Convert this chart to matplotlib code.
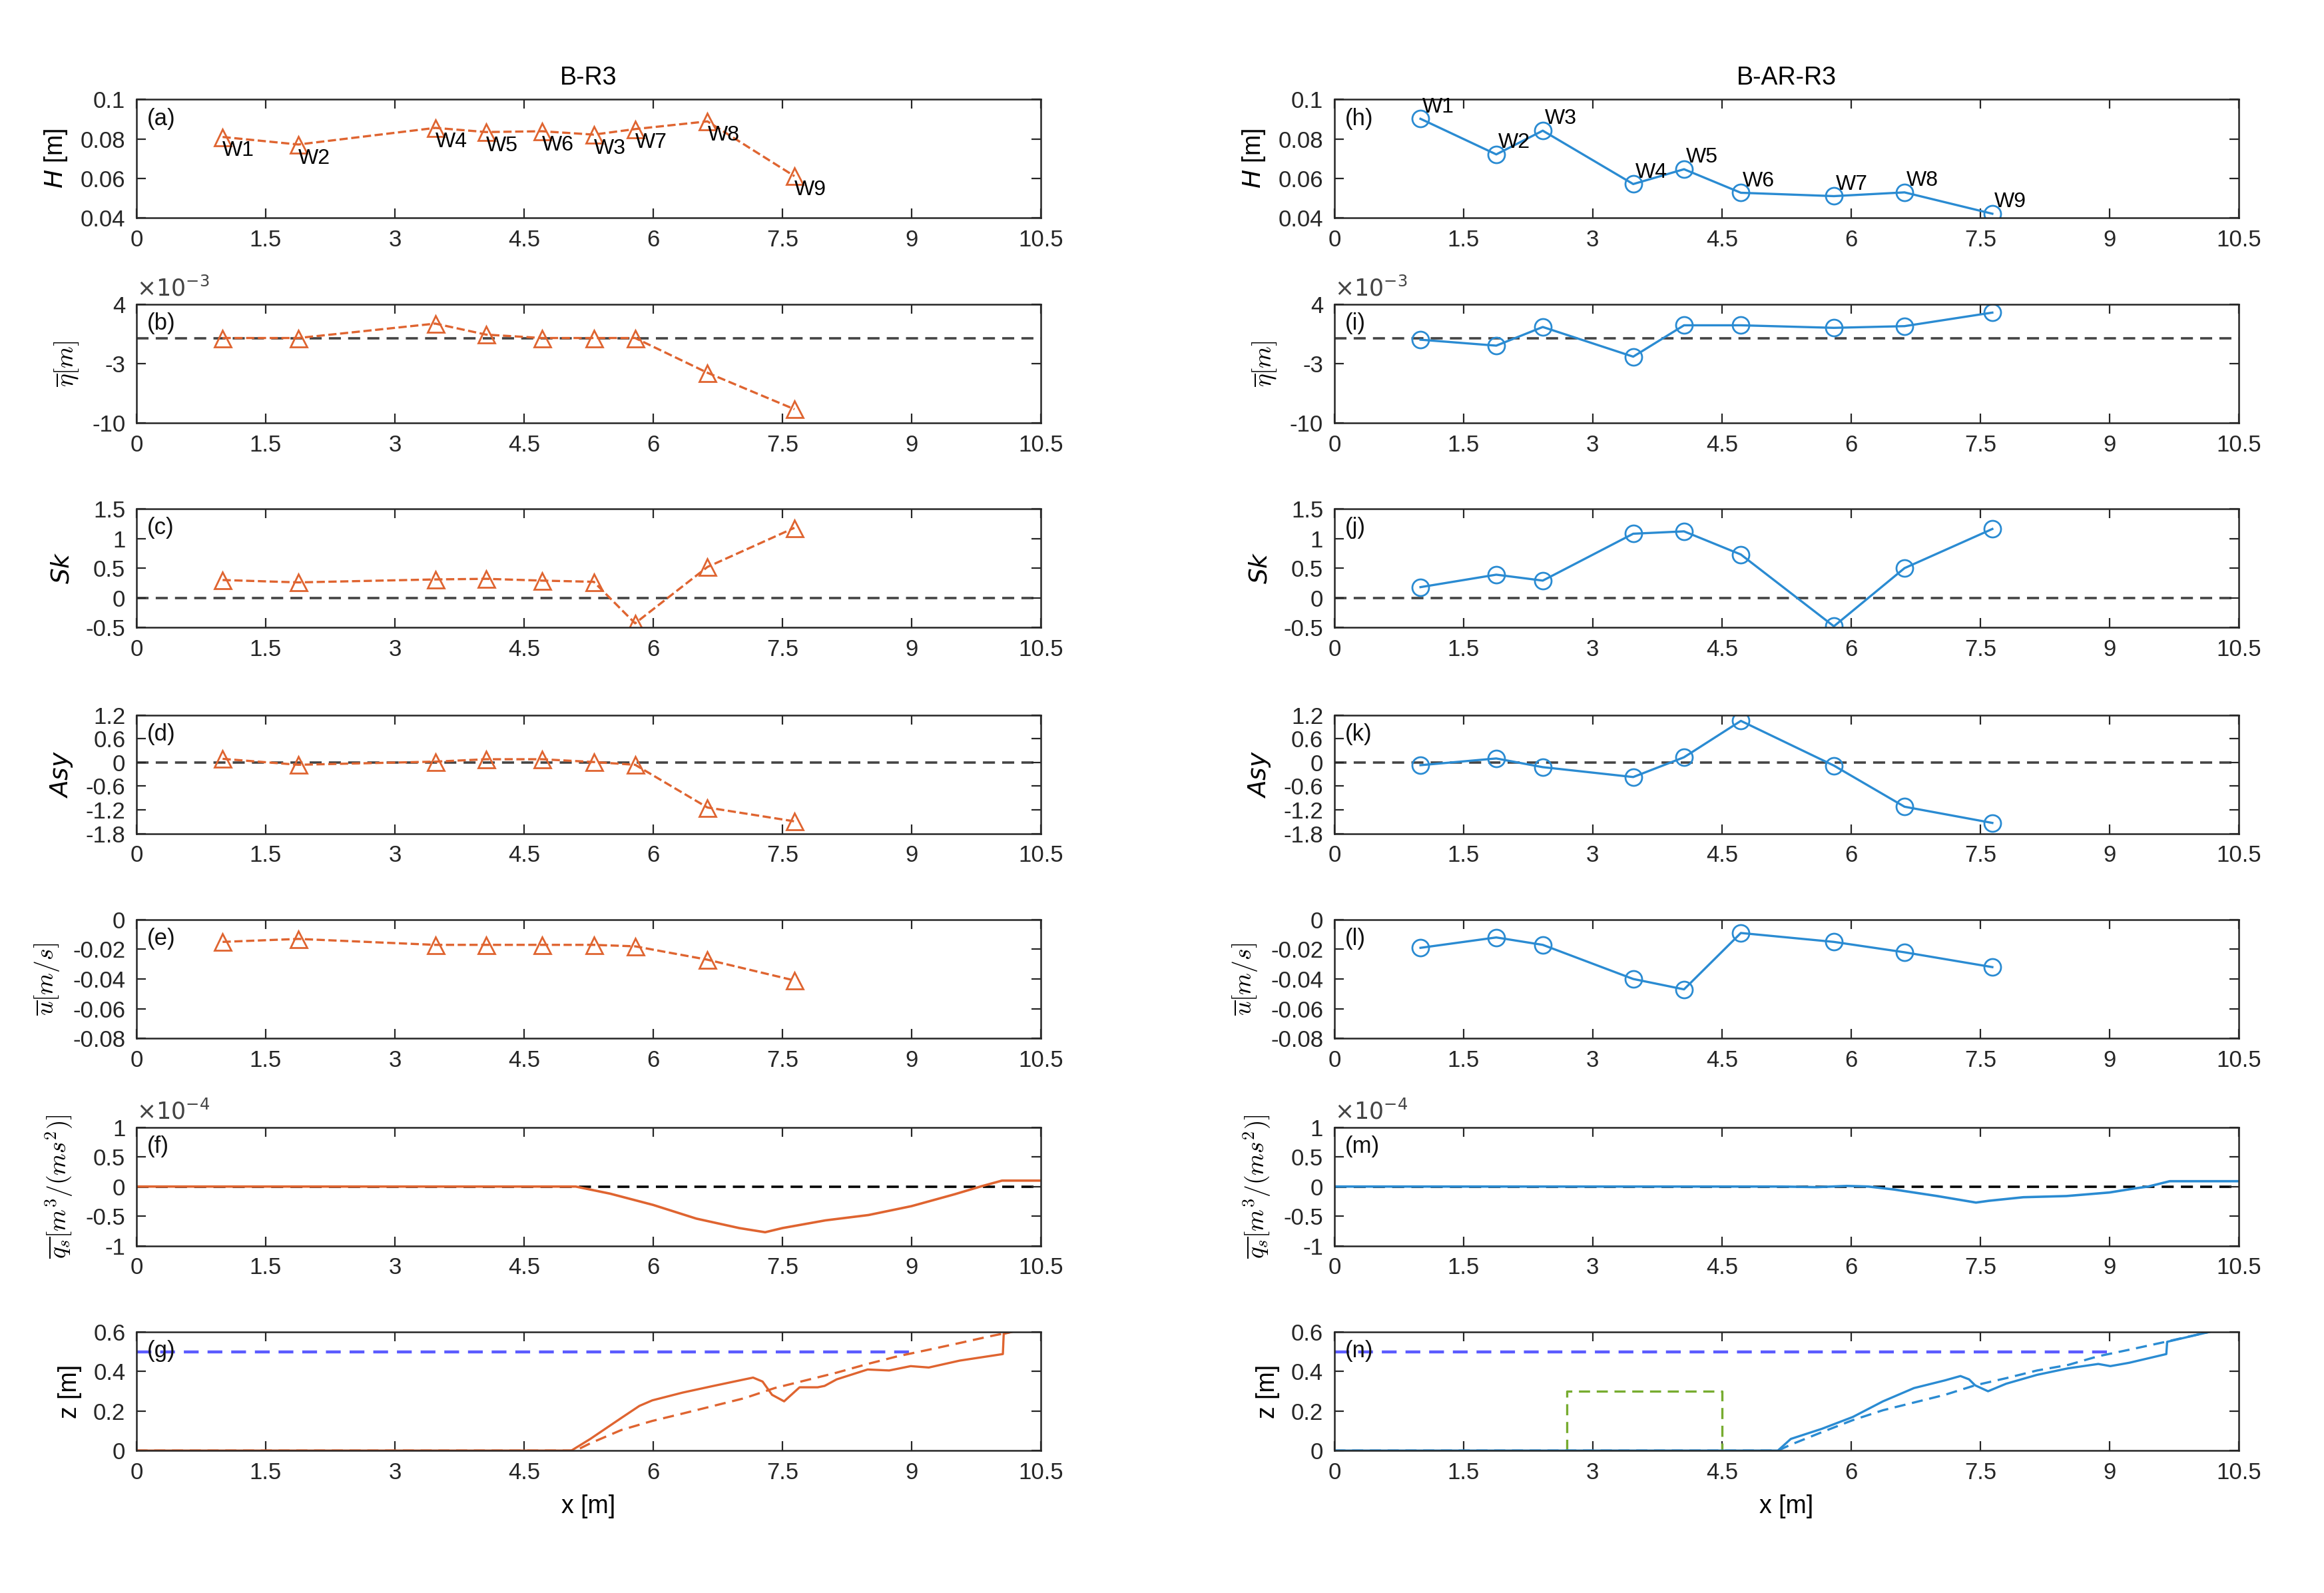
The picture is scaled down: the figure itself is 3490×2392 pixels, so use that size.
import matplotlib
matplotlib.use("Agg")
import matplotlib.pyplot as plt

plt.rcParams['font.family'] = ['Liberation Sans', 'DejaVu Sans']
plt.rcParams['axes.unicode_minus'] = False
plt.rcParams['mathtext.fontset'] = 'cm'

# ---------------- data ----------------
names_L = ['W1', 'W2', 'W4', 'W5', 'W6', 'W3', 'W7', 'W8', 'W9']
names_R = ['W1', 'W2', 'W3', 'W4', 'W5', 'W6', 'W7', 'W8', 'W9']
x_L = [1.0, 1.88, 3.47, 4.06, 4.71, 5.31, 5.79, 6.63, 7.64]
x_R = [1.0, 1.88, 2.42, 3.47, 4.06, 4.72, 5.80, 6.62, 7.64]

H_L = [0.081, 0.0772, 0.0856, 0.0835, 0.0839, 0.0822, 0.0850, 0.0889, 0.0612]
H_R = [0.0902, 0.0722, 0.0842, 0.0572, 0.0647, 0.0528, 0.0511, 0.0530, 0.0422]

eta_L = [0.0, 0.0, 1.7e-3, 0.4e-3, 0.0, 0.0, 0.0, -4.1e-3, -8.4e-3]
eta_R = [-0.2e-3, -0.9e-3, 1.3e-3, -2.2e-3, 1.5e-3, 1.5e-3, 1.2e-3, 1.4e-3, 3.0e-3]

Sk_L = [0.30, 0.26, 0.31, 0.32, 0.29, 0.27, -0.43, 0.52, 1.18]
Sk_R = [0.18, 0.39, 0.29, 1.08, 1.12, 0.73, -0.48, 0.50, 1.16]

Asy_L = [0.09, -0.06, 0.02, 0.08, 0.08, 0.01, -0.06, -1.14, -1.49]
Asy_R = [-0.07, 0.10, -0.12, -0.37, 0.13, 1.05, -0.08, -1.12, -1.53]

u_L = [-0.015, -0.013, -0.017, -0.017, -0.017, -0.017, -0.018, -0.027, -0.041]
u_R = [-0.019, -0.012, -0.017, -0.040, -0.047, -0.009, -0.015, -0.022, -0.032]

qsx_L = [0, 5.1, 5.5, 6.0, 6.5, 7.0, 7.3, 7.5, 8.0, 8.5, 9.0, 9.5, 9.8, 10.05, 10.5]
qs_L = [0, 0, -0.12e-4, -0.31e-4, -0.54e-4, -0.70e-4, -0.77e-4, -0.70e-4, -0.57e-4,
        -0.48e-4, -0.33e-4, -0.13e-4, 0.0, 0.10e-4, 0.10e-4]
qsx_R = [0, 5.2, 5.6, 5.95, 6.2, 6.5, 7.0, 7.45, 7.6, 8.0, 8.5, 9.0, 9.3, 9.45, 9.7, 10.5]
qs_R = [0, 0, -0.01e-4, 0.01e-4, 0.0, -0.05e-4, -0.16e-4, -0.27e-4, -0.24e-4, -0.18e-4,
        -0.16e-4, -0.10e-4, -0.03e-4, 0.0, 0.09e-4, 0.09e-4]

zx_L_init = [0, 5.1, 5.27, 5.63, 5.99, 6.34, 6.7, 7.06, 7.41, 7.77, 8.13, 8.49, 8.84, 9.2, 9.56, 9.91, 10.16]
z_L_init = [0, 0, 0.037, 0.104, 0.15, 0.187, 0.226, 0.265, 0.316, 0.355, 0.394, 0.438, 0.477, 0.51, 0.544, 0.578, 0.6]
zx_L_fin = [0, 5.05, 5.27, 5.63, 5.84, 5.99, 6.34, 6.7, 7.06, 7.16, 7.27, 7.38, 7.52, 7.7, 7.91, 7.99,
            8.13, 8.49, 8.74, 8.99, 9.2, 9.56, 10.06, 10.07, 10.16]
z_L_fin = [0, 0, 0.059, 0.165, 0.226, 0.254, 0.293, 0.327, 0.36, 0.369, 0.349, 0.282, 0.249, 0.32, 0.32,
           0.327, 0.36, 0.41, 0.405, 0.427, 0.42, 0.455, 0.488, 0.59, 0.6]

zx_R_init = [0, 5.15, 5.3, 5.66, 6.02, 6.37, 6.73, 7.09, 7.44, 7.8, 8.16, 8.52, 8.87, 9.23, 9.59, 10.16]
z_R_init = [0, 0, 0.03, 0.093, 0.154, 0.204, 0.243, 0.282, 0.33, 0.366, 0.405, 0.433, 0.477, 0.51, 0.544, 0.6]
zx_R_fin = [0, 5.15, 5.3, 5.66, 6.02, 6.37, 6.73, 7.09, 7.27, 7.37, 7.44, 7.59, 7.8, 8.16, 8.52, 8.87,
            9.01, 9.23, 9.66, 9.67, 10.16]
z_R_fin = [0, 0, 0.059, 0.11, 0.17, 0.249, 0.316, 0.355, 0.377, 0.36, 0.33, 0.30, 0.338, 0.383, 0.416,
           0.438, 0.427, 0.444, 0.488, 0.55, 0.6]

still_x = [0, 9.0]
still_z = [0.5, 0.5]
reef_x = [2.7, 2.7, 4.5, 4.5]
reef_z = [0.0, 0.3, 0.3, 0.0]

xticks = [0, 1.5, 3, 4.5, 6, 7.5, 9, 10.5]
xticklabels = ['0', '1.5', '3', '4.5', '6', '7.5', '9', '10.5']

# ---------------- styling ----------------
ORANGE = '#DF6430'
BLUE = '#2A8BD2'
FS = 12.5

fig = plt.figure(figsize=(17.455, 11.96), dpi=200)

lefts = [0.0587, 0.574]
width = 0.389
bottoms = [0.8631, 0.7346, 0.6061, 0.4767, 0.3482, 0.2179, 0.0894]
height = 0.0745

ylabels = [('$H$ [m]', 'dejavusans'), (r'$\overline{\eta}[m]$', 'cm'), ('$Sk$', 'dejavusans'),
           ('$Asy$', 'dejavusans'), (r'$\overline{u}[m/s]$', 'cm'),
           (r'$\overline{q_s}[m^3/(ms^2)]$', 'cm'), ('z [m]', 'dejavusans')]
ylims = [(0.04, 0.1), (-10e-3, 4e-3), (-0.5, 1.5), (-1.8, 1.2), (-0.08, 0), (-1e-4, 1e-4), (0, 0.6)]
yticks = [[0.04, 0.06, 0.08, 0.1], [-10e-3, -3e-3, 4e-3], [-0.5, 0, 0.5, 1, 1.5],
          [-1.8, -1.2, -0.6, 0, 0.6, 1.2], [-0.08, -0.06, -0.04, -0.02, 0],
          [-1e-4, -0.5e-4, 0, 0.5e-4, 1e-4], [0, 0.2, 0.4, 0.6]]
yticklabels = [['0.04', '0.06', '0.08', '0.1'], ['-10', '-3', '4'], ['-0.5', '0', '0.5', '1', '1.5'],
               ['-1.8', '-1.2', '-0.6', '0', '0.6', '1.2'],
               ['-0.08', '-0.06', '-0.04', '-0.02', '0'], ['-1', '-0.5', '0', '0.5', '1'],
               ['0', '0.2', '0.4', '0.6']]
multipliers = {1: r'$\times10^{-3}$', 5: r'$\times10^{-4}$'}
panel_letters = [list('abcdefg'), list('hijklmn')]

sets = [
    dict(x=x_L, names=names_L, H=H_L, eta=eta_L, Sk=Sk_L, Asy=Asy_L, u=u_L,
         qsx=qsx_L, qs=qs_L, zxi=zx_L_init, zi=z_L_init, zxf=zx_L_fin, zf=z_L_fin,
         color=ORANGE, ls='--', marker='^', title='B-R3'),
    dict(x=x_R, names=names_R, H=H_R, eta=eta_R, Sk=Sk_R, Asy=Asy_R, u=u_R,
         qsx=qsx_R, qs=qs_R, zxi=zx_R_init, zi=z_R_init, zxf=zx_R_fin, zf=z_R_fin,
         color=BLUE, ls='-', marker='o', title='B-AR-R3'),
]

for c, d in enumerate(sets):
    for r in range(7):
        ax = fig.add_axes([lefts[c], bottoms[r], width, height])
        ax.set_xlim(0, 10.5)
        ax.set_ylim(*ylims[r])
        ax.set_xticks(xticks)
        ax.set_xticklabels(xticklabels)
        ax.set_yticks(yticks[r])
        ax.set_yticklabels(yticklabels[r])
        if r in multipliers:
            ax.text(0.0, 1.03, multipliers[r], transform=ax.transAxes, ha='left', va='bottom',
                    fontsize=FS, color='#444444', math_fontfamily='dejavusans')
        ax.tick_params(direction='in', top=True, right=True, labelsize=FS, colors='#262626',
                       length=5, width=0.8, pad=6)
        for sp in ax.spines.values():
            sp.set_color('#262626')
            sp.set_linewidth(0.9)
        ax.set_ylabel(ylabels[r][0], fontsize=FS + 1, math_fontfamily=ylabels[r][1], labelpad=6)
        ax.text(0.012, 0.93, '(%s)' % panel_letters[c][r], transform=ax.transAxes,
                fontsize=FS, va='top', ha='left', color='#111111')

        mk = dict(color=d['color'], ls=d['ls'], lw=1.2, marker=d['marker'], markersize=9,
                  markerfacecolor='none', markeredgewidth=1.0)
        if r == 0:
            ax.plot(d['x'], d['H'], **mk)
            for xi, yi, nm in zip(d['x'], d['H'], d['names']):
                if c == 0:
                    ax.annotate(nm, (xi, yi), xytext=(0, -2), textcoords='offset points',
                                ha='left', va='top', fontsize=FS - 1)
                else:
                    ax.annotate(nm, (xi, yi), xytext=(1, 1), textcoords='offset points',
                                ha='left', va='bottom', fontsize=FS - 1)
            ax.set_title(d['title'], fontsize=FS + 1, pad=8)
        elif r in (1, 2, 3):
            ax.axhline(0, color='#444444', ls='--', lw=1.3, dashes=(5, 3), zorder=1)
            key = {1: 'eta', 2: 'Sk', 3: 'Asy'}[r]
            ax.plot(d['x'], d[key], zorder=2, **mk)
        elif r == 4:
            ax.plot(d['x'], d['u'], **mk)
        elif r == 5:
            ax.axhline(0, color='black', ls='--', lw=1.3, dashes=(5, 3), zorder=1)
            ax.plot(d['qsx'], d['qs'], color=d['color'], lw=1.3, zorder=2)
        else:
            ax.plot(still_x, still_z, color='#5B5BFF', ls='--', lw=1.6, dashes=(5, 3))
            if c == 1:
                ax.plot(reef_x, reef_z, color='#77AC30', ls='--', lw=1.2, dashes=(5, 3))
            ax.plot(d['zxi'], d['zi'], color=d['color'], ls='--', lw=1.2, dashes=(5, 3))
            ax.plot(d['zxf'], d['zf'], color=d['color'], ls='-', lw=1.2)
            ax.set_xlabel('x [m]', fontsize=FS + 1, labelpad=6)

fig.savefig('out.png', dpi=200)
